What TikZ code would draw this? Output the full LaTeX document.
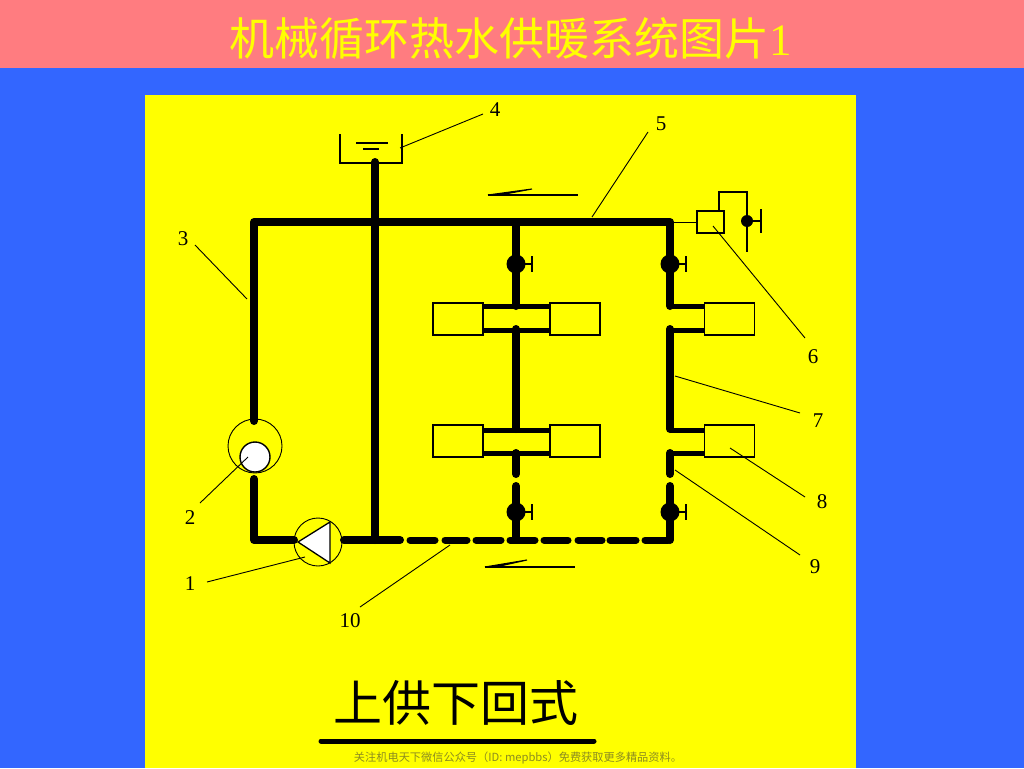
\documentclass[tikz,border=0pt]{standalone}
\usepackage{fontspec}
\setmainfont{Liberation Serif}
\newfontfamily\cjk{Noto Sans CJK SC}
\definecolor{bandpink}{HTML}{FF7C80}
\definecolor{bgblue}{HTML}{3366FF}
\definecolor{paneyellow}{HTML}{FFFF00}
\definecolor{footgray}{HTML}{8C8C20}
\tikzset{
  pipe/.style={line width=8pt,line cap=round,line join=round},
  branch/.style={line width=5pt},
  dashpipe/.style={line width=7pt,line cap=round},
  thin line/.style={line width=1.1pt},
  leader/.style={line width=0.9pt},
  rad/.style={draw,line width=1.2pt,fill=paneyellow,minimum width=50pt,minimum height=32pt,inner sep=0pt},
  num/.style={font=\fontsize{21}{21}\selectfont,inner sep=0pt},
  valvebody/.style={circle,fill=black,minimum size=19pt,inner sep=0pt},
  anchorpt/.style={inner sep=0pt,minimum size=0pt},
}
\begin{document}
\begin{tikzpicture}[x=1pt,y=-1pt]
\useasboundingbox (0,0) rectangle (1024,768);
\fill[bgblue] (0,0) rectangle (1024,768);
\fill[bandpink] (0,0) rectangle (1024,68);
\fill[paneyellow] (145,95) rectangle (856,768);
\node[anchorpt,text=paneyellow] (title) at (511,38) {\fontsize{45}{45}\selectfont\cjk 机械循环热水供暖系统图片\rmfamily 1};
% junction coordinates
\coordinate (tl) at (254,222);
\coordinate (tr) at (670,222);
\coordinate (bl) at (254,540);
\coordinate (br) at (670,540);
\coordinate (rt) at (375,162);
\coordinate (rb) at (375,540);
\coordinate (mt) at (516,222);
% radiators
\node[rad] (r1) at (458,319) {};
\node[rad] (r2) at (575,319) {};
\node[rad] (r3) at (729.5,319) {};
\node[rad] (r4) at (458,441) {};
\node[rad] (r5) at (575,441) {};
\node[rad] (r6) at (729.5,441) {};
% main pipes
\draw[pipe] (254,421) -- (tl) -- (tr) -- (670,306);
\draw[pipe] (rt) -- (rb);
\draw[pipe] (254,479) -- (bl) -- (294,540);
\draw[pipe] (344,540) -- (400,540);
\draw[pipe] (mt) -- (516,306);
\draw[pipe] (516,329) -- (516,429);
\draw[pipe] (516,453) -- (516,474);
\draw[pipe] (516,486) -- (516,538);
\draw[pipe] (670,329) -- (670,429);
\draw[pipe] (670,453) -- (670,474);
\draw[pipe] (670,486) -- (br);
% branches
\draw[branch] (r1.east|-0,306) -- (r2.west|-0,306);
\draw[branch] (r1.east|-0,330) -- (r2.west|-0,330);
\draw[branch] (r4.east|-0,430) -- (r5.west|-0,430);
\draw[branch] (r4.east|-0,453) -- (r5.west|-0,453);
\draw[branch] (670,306) -- (r3.west|-0,306);
\draw[branch] (670,330) -- (r3.west|-0,330);
\draw[branch] (670,430) -- (r6.west|-0,430);
\draw[branch] (670,453) -- (r6.west|-0,453);
% return dashes
\foreach \a/\b in {410/435,445/467,476/501,510/535,544/568,578/602,610/636,645/668}
  \draw[dashpipe] (\a,540) -- (\b,540);
% valves
\foreach \n/\x/\y in {v1/516/264,v2/670/264,v3/516/512,v4/670/512}{
  \node[valvebody] (\n) at (\x,\y) {};
  \draw[thin line] (\n.center) -- (\x+16,\y);
  \draw[line width=1.4pt] (\x+16,\y-8) -- (\x+16,\y+8);
}
% tank
\draw[line width=1.2pt] (340,134) -- (340,163) -- (402,163) -- (402,134);
\draw[line width=1.2pt] (356,143) -- (388,143);
\draw[line width=1.2pt] (363,149) -- (379,149);
% expansion device 6
\node[draw,line width=1.2pt,minimum width=27pt,minimum height=22pt,inner sep=0pt] (dev) at (710.5,222) {};
\draw[line width=0.8pt] (tr) -- (dev.west);
\draw[line width=1.2pt] (719,211) -- (719,192) -- (747,192) -- (747,252);
\node[circle,fill=black,minimum size=12pt,inner sep=0pt] (dv) at (747,221) {};
\draw[line width=1.2pt] (dv.center) -- (761,221);
\draw[line width=1.2pt] (761,209) -- (761,233);
% circulation tank 2
\node[circle,draw,line width=0.9pt,minimum size=54pt,inner sep=0pt] (c2) at (255,446) {};
\node[circle,draw,line width=1.4pt,fill=white,minimum size=30pt,inner sep=0pt] (c2i) at (255,457) {};
% pump 1
\node[circle,draw,line width=0.9pt,minimum size=48pt,inner sep=0pt] (p1) at (318,542) {};
\draw[line width=1.3pt,fill=white,line join=miter] (298,542) -- (330,522) -- (330,563) -- cycle;
% flow arrows
\draw[line width=1.1pt] (488,195) -- (578,195);
\draw[line width=1.1pt,fill=black] (488,195) -- (532,189) -- (505,194) -- cycle;
\draw[line width=1.1pt] (485,567) -- (575,567);
\draw[line width=1.1pt,fill=black] (485,567) -- (527,560) -- (500,566) -- cycle;
% numbers
\node[num] (n1) at (190,584) {1};
\node[num] (n2) at (190,518) {2};
\node[num] (n3) at (183,239) {3};
\node[num] (n4) at (495,110) {4};
\node[num] (n5) at (661,124) {5};
\node[num] (n6) at (813,357) {6};
\node[num] (n7) at (818,421) {7};
\node[num] (n8) at (822,502) {8};
\node[num] (n9) at (815,567) {9};
\node[num] (n10) at (350,621) {10};
% leaders
\coordinate (l1) at (305,557);
\coordinate (l2) at (248,457);
\coordinate (l3) at (247,299);
\coordinate (l4) at (400,148);
\coordinate (l5) at (592,217);
\coordinate (l6) at (713,226);
\coordinate (l7) at (675,376);
\coordinate (l8) at (730,448);
\coordinate (l9) at (675,470);
\coordinate (l10) at (450,545);
\draw[leader] (207,582) -- (l1);
\draw[leader] (200,503) -- (l2);
\draw[leader] (195,245) -- (l3);
\draw[leader] (483,114) -- (l4);
\draw[leader] (648,132) -- (l5);
\draw[leader] (805,338) -- (l6);
\draw[leader] (800,413) -- (l7);
\draw[leader] (805,497) -- (l8);
\draw[leader] (800,555) -- (l9);
\draw[leader] (360,607) -- (l10);
% caption
\node[anchorpt] (cap) at (455.5,703) {\fontsize{49}{49}\selectfont\cjk 上供下回式};
\draw[line width=5pt,line cap=round] (321,741) -- (594,741);
\node[anchorpt,text=footgray] (foot) at (518,757.5) {\fontsize{11.2}{12}\selectfont\cjk 关注机电天下微信公众号（ID: mepbbs）免费获取更多精品资料。};
\end{tikzpicture}
\end{document}
